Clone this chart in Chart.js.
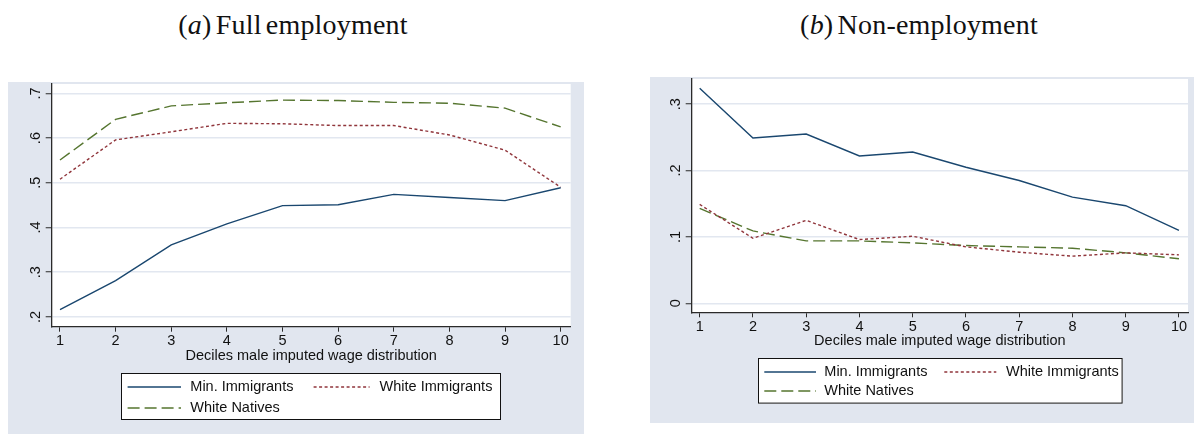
<!DOCTYPE html>
<html>
<head>
<meta charset="utf-8">
<title>Full employment and non-employment by wage decile</title>
<script src="https://cdn.jsdelivr.net/npm/chart.js@4/dist/chart.umd.min.js"></script>
<style>
  html, body { margin: 0; padding: 0; background: #ffffff; width: 1194px; height: 434px; overflow: hidden; position: relative; }
  .ttl { position: absolute; top: 11px; line-height: 27px; font-family: "Liberation Serif", "Times New Roman", serif; font-size: 28px; word-spacing: -3px; letter-spacing: 0.2px; color: #111; white-space: nowrap; transform: translateX(-50%); }
  canvas { position: absolute; display: block; background: #e1e6ef; }
</style>
</head>
<body>
<div class="ttl" style="left:293px">(<i>a</i>) Full employment</div>
<div class="ttl" style="left:919px">(<i>b</i>) Non-employment</div>
<canvas id="full" width="576" height="352" style="left:8px;top:82px;width:576px;height:352px"></canvas>
<canvas id="non" width="544" height="346" style="left:650px;top:77px;width:544px;height:346px"></canvas>
<script>
// Deciles of the male imputed wage distribution
const deciles = [1, 2, 3, 4, 5, 6, 7, 8, 9, 10];

// Series names and styles (Stata s2color look)
const seriesNames = ["Min. Immigrants", "White Immigrants", "White Natives"];
const seriesColors = ["#1a476f", "#90353b", "#55752f"];
const seriesDash = [[], [3, 2.5], [12, 5]];

// Panel (a): share in full employment
const fullMin      = [0.216, 0.281, 0.361, 0.408, 0.449, 0.451, 0.474, 0.467, 0.460, 0.489];
const fullWhiteImm = [0.508, 0.596, 0.614, 0.633, 0.632, 0.628, 0.628, 0.607, 0.573, 0.490];
const fullWhiteNat = [0.551, 0.642, 0.672, 0.679, 0.685, 0.684, 0.680, 0.678, 0.667, 0.625];
const fullTicks      = [0.2, 0.3, 0.4, 0.5, 0.6, 0.7];
const fullTickLabels = [".2", ".3", ".4", ".5", ".6", ".7"];

// Panel (b): share in non-employment
const nonMin      = [0.324, 0.249, 0.255, 0.222, 0.228, 0.205, 0.185, 0.160, 0.147, 0.110];
const nonWhiteImm = [0.149, 0.098, 0.125, 0.096, 0.101, 0.085, 0.077, 0.071, 0.076, 0.073];
const nonWhiteNat = [0.143, 0.109, 0.094, 0.094, 0.091, 0.087, 0.085, 0.083, 0.076, 0.067];
const nonTicks      = [0, 0.1, 0.2, 0.3];
const nonTickLabels = ["0", ".1", ".2", ".3"];

const xTitle = "Deciles male imputed wage distribution";

const sansFamily = '"Liberation Sans", Arial, Helvetica, sans-serif';
const textColor = "#111111";
const axisColor = "#2a2a2a";
const gridColor = "#e2e7f0";
const fontSize = 14.5;

// White plot region behind the grid
const plotBackground = {
  id: "plotBackground",
  beforeDraw(chart) {
    const { ctx, chartArea: a } = chart;
    ctx.save();
    ctx.fillStyle = "#ffffff";
    ctx.fillRect(a.left, a.top, a.right - a.left, a.bottom - a.top);
    ctx.restore();
  }
};

// Vertical (rotated) y tick labels
const rotatedYLabels = {
  id: "rotatedYLabels",
  afterDraw(chart, args, o) {
    const { ctx } = chart;
    const sc = chart.scales.y;
    ctx.save();
    ctx.fillStyle = textColor;
    ctx.font = fontSize + "px " + sansFamily;
    ctx.textAlign = "center";
    ctx.textBaseline = "alphabetic";
    o.values.forEach((v, i) => {
      const py = sc.getPixelForValue(v);
      ctx.save();
      ctx.translate(sc.right - o.gap, py);
      ctx.rotate(-Math.PI / 2);
      ctx.fillText(o.labels[i], 0, 0);
      ctx.restore();
    });
    ctx.restore();
  }
};

// x-axis title under the tick labels
const xAxisTitle = {
  id: "xAxisTitle",
  afterDraw(chart, args, o) {
    const { ctx, chartArea: a } = chart;
    ctx.save();
    ctx.fillStyle = textColor;
    ctx.font = fontSize + "px " + sansFamily;
    ctx.textAlign = "center";
    ctx.textBaseline = "middle";
    ctx.fillText(o.text, (a.left + a.right) / 2, a.bottom + o.offset);
    ctx.restore();
  }
};

// Boxed two-column legend centred under the plot
const boxLegend = {
  id: "boxLegend",
  afterDraw(chart, args, o) {
    const { ctx, chartArea: a } = chart;
    const x0 = Math.round((a.left + a.right) / 2 - o.width / 2);
    const y0 = Math.round(a.bottom + o.top);
    ctx.save();
    ctx.fillStyle = "#ffffff";
    ctx.fillRect(x0, y0, o.width, o.height);
    ctx.strokeStyle = "#111111";
    ctx.lineWidth = 1;
    ctx.strokeRect(x0 + 0.5, y0 + 0.5, o.width - 1, o.height - 1);
    chart.data.datasets.forEach((ds, i) => {
      const s = o.slots[i];
      const ly = y0 + s.dy;
      ctx.beginPath();
      ctx.setLineDash(ds.borderDash || []);
      ctx.strokeStyle = ds.borderColor;
      ctx.lineWidth = ds.borderWidth;
      ctx.moveTo(x0 + s.sx0, ly);
      ctx.lineTo(x0 + s.sx1, ly);
      ctx.stroke();
      ctx.setLineDash([]);
      ctx.fillStyle = textColor;
      ctx.font = fontSize + "px " + sansFamily;
      ctx.textAlign = "left";
      ctx.textBaseline = "middle";
      ctx.fillText(ds.label, x0 + s.tx, ly);
    });
    ctx.restore();
  }
};

function buildPanel(id, p) {
  const canvas = document.getElementById(id);
  return new Chart(canvas.getContext("2d"), {
    type: "line",
    data: {
      datasets: p.series.map((vals, i) => ({
        label: seriesNames[i],
        data: deciles.map((d, j) => ({ x: d, y: vals[j] })),
        borderColor: seriesColors[i],
        borderWidth: 1.4,
        borderDash: seriesDash[i],
        pointRadius: 0,
        pointHoverRadius: 0,
        tension: 0,
        fill: false
      }))
    },
    options: {
      responsive: false,
      animation: false,
      devicePixelRatio: 1,
      events: [],
      layout: { padding: { top: p.area.top, right: p.width - p.area.right, bottom: 0, left: 0 } },
      plugins: {
        legend: { display: false },
        tooltip: { enabled: false },
        title: { display: false },
        rotatedYLabels: { values: p.yTicks, labels: p.yTickLabels, gap: p.yLabelGap },
        xAxisTitle: { text: xTitle, offset: p.titleOffset },
        boxLegend: p.legend
      },
      scales: {
        x: {
          type: "linear",
          min: p.xMin,
          max: p.xMax,
          afterBuildTicks: sc => { sc.ticks = deciles.map(v => ({ value: v })); },
          afterFit: sc => { sc.height = p.height - p.area.bottom; },
          grid: { display: true, drawOnChartArea: false, drawTicks: true, tickLength: 5, tickColor: axisColor, tickWidth: 1 },
          border: { display: true, color: axisColor, width: 1.3 },
          ticks: {
            color: textColor,
            font: { family: sansFamily, size: fontSize },
            padding: 1,
            maxRotation: 0,
            minRotation: 0,
            autoSkip: false,
            callback: v => String(v)
          }
        },
        y: {
          type: "linear",
          min: p.yMin,
          max: p.yMax,
          afterBuildTicks: sc => { sc.ticks = p.yTicks.map(v => ({ value: v })); },
          afterFit: sc => { sc.width = p.area.left; },
          grid: { display: true, color: gridColor, lineWidth: 1.5, drawTicks: true, tickLength: 6, tickColor: axisColor, tickWidth: 1 },
          border: { display: true, color: axisColor, width: 1.3 },
          ticks: { display: false }
        }
      }
    },
    plugins: [plotBackground, rotatedYLabels, xAxisTitle, boxLegend]
  });
}

buildPanel("full", {
  width: 576, height: 352,
  area: { left: 43.7, right: 562.7, top: 2, bottom: 244.7 },
  xMin: 0.851, xMax: 10.18,
  yMin: 0.178, yMax: 0.721,
  yTicks: fullTicks, yTickLabels: fullTickLabels, yLabelGap: 12,
  titleOffset: 29,
  series: [fullMin, fullWhiteImm, fullWhiteNat],
  legend: {
    width: 380, height: 47, top: 46.6,
    slots: [
      { dy: 14, sx0: 6.6, sx1: 60, tx: 69.3 },
      { dy: 14, sx0: 192.6, sx1: 248.6, tx: 258.6 },
      { dy: 35, sx0: 6.6, sx1: 60, tx: 69.3 }
    ]
  }
});

buildPanel("non", {
  width: 544, height: 346,
  area: { left: 41.7, right: 538, top: 2, bottom: 235.3 },
  xMin: 0.85, xMax: 10.17,
  yMin: -0.0136, yMax: 0.338,
  yTicks: nonTicks, yTickLabels: nonTickLabels, yLabelGap: 12,
  titleOffset: 28.4,
  series: [nonMin, nonWhiteImm, nonWhiteNat],
  legend: {
    width: 364.6, height: 45.6, top: 45.4,
    slots: [
      { dy: 14, sx0: 6.3, sx1: 58, tx: 66.3 },
      { dy: 14, sx0: 186.3, sx1: 238.3, tx: 248 },
      { dy: 33, sx0: 6.3, sx1: 58, tx: 66.3 }
    ]
  }
});
</script>
</body>
</html>
